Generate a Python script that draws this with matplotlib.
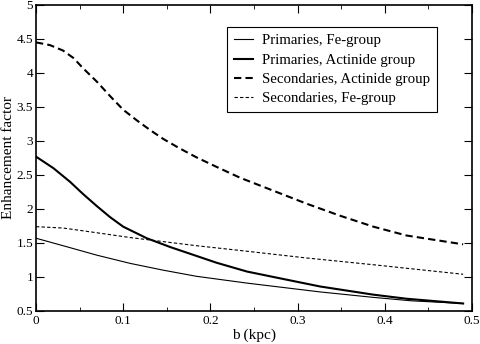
import matplotlib
matplotlib.use('Agg')
import matplotlib.pyplot as plt
from matplotlib.ticker import MultipleLocator

# b (kpc) sample points
b_sa = [0.0, 0.016, 0.031, 0.043, 0.054, 0.070, 0.085, 0.100, 0.116, 0.131, 0.146,
        0.165, 0.184, 0.207, 0.234, 0.272, 0.310, 0.349, 0.387, 0.425, 0.49]
sec_act = [4.45, 4.41, 4.33, 4.22, 4.07, 3.87, 3.66, 3.46, 3.30, 3.16, 3.03,
           2.89, 2.76, 2.62, 2.46, 2.27, 2.08, 1.90, 1.74, 1.61, 1.48]

b_sf = [0.0, 0.031, 0.070, 0.108, 0.146, 0.184, 0.234, 0.310, 0.387, 0.49]
sec_fe = [1.74, 1.72, 1.65, 1.58, 1.52, 1.46, 1.39, 1.28, 1.18, 1.04]

b_pa = [0.0, 0.020, 0.039, 0.054, 0.070, 0.085, 0.100, 0.127, 0.154, 0.184,
        0.207, 0.242, 0.280, 0.326, 0.387, 0.425, 0.49]
prim_act = [2.77, 2.60, 2.40, 2.22, 2.04, 1.88, 1.74, 1.57, 1.44, 1.31,
            1.21, 1.08, 0.98, 0.86, 0.74, 0.68, 0.61]

b_pf = [0.0, 0.031, 0.070, 0.108, 0.146, 0.184, 0.242, 0.326, 0.387, 0.43, 0.49]
prim_fe = [1.57, 1.46, 1.32, 1.20, 1.10, 1.01, 0.91, 0.78, 0.70, 0.65, 0.61]

xticks = [0, 0.1, 0.2, 0.3, 0.4, 0.5]
xtick_labels = ['0', '0.1', '0.2', '0.3', '0.4', '0.5']
yticks = [0.5, 1, 1.5, 2, 2.5, 3, 3.5, 4, 4.5, 5]
ytick_labels = ['0.5', '1', '1.5', '2', '2.5', '3', '3.5', '4', '4.5', '5']

plt.rcParams['font.family'] = ['Liberation Serif', 'DejaVu Serif']

fig = plt.figure(figsize=(4.8, 3.44), dpi=100)
ax = fig.add_axes([0.075, 0.096, 0.908, 0.8895])

ax.plot(b_pf, prim_fe, color='black', lw=0.8, label='Primaries, Fe-group')
ax.plot(b_pa, prim_act, color='black', lw=1.5, label='Primaries, Actinide group')
ax.plot(b_sa, sec_act, color='black', lw=1.5, dashes=(3.5, 2), label='Secondaries, Actinide group')
ax.plot(b_sf, sec_fe, color='black', lw=0.8, dashes=(3, 2), label='Secondaries, Fe-group')

ax.set_xlim(0, 0.5)
ax.set_ylim(0.5, 5)
ax.set_xticks(xticks)
ax.set_xticklabels(xtick_labels)
ax.xaxis.set_minor_locator(MultipleLocator(0.05))
ax.set_yticks(yticks)
ax.set_yticklabels(ytick_labels)
ax.tick_params(which='both', direction='in', top=True, right=True, labelsize=9.5)
ax.tick_params(axis='x', pad=3)
ax.tick_params(axis='y', pad=2)
ax.tick_params(which='major', length=6)
ax.tick_params(which='minor', length=3)
for s in ax.spines.values():
    s.set_linewidth(1.2)

ax.set_xlabel('b (kpc)', fontsize=11, labelpad=1)
ax.set_ylabel('Enhancement factor', fontsize=11, labelpad=1)

leg = ax.legend(loc='upper right', bbox_to_anchor=(0.92, 0.927), fontsize=10.7,
                handlelength=1.3, handletextpad=0.6, labelspacing=0.4,
                borderpad=0.45, borderaxespad=0, fancybox=False, framealpha=1)
leg.get_frame().set_edgecolor('black')
leg.get_frame().set_linewidth(0.8)

fig.savefig('out.png', dpi=100)
